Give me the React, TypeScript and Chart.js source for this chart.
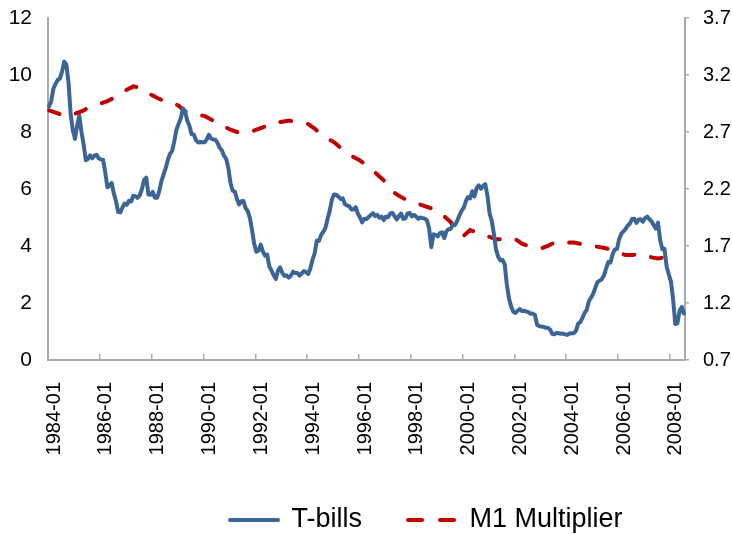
import React, { useEffect, useRef } from 'react';
import { Chart, registerables } from 'chart.js';

Chart.register(...registerables);

// Monthly categories 1984-01 .. 2008-07
const months: string[] = [];
for (let y = 1984; y <= 2008; y++) {
  for (let m = 1; m <= 12; m++) {
    if (y === 2008 && m > 7) break;
    months.push(`${y}-${String(m).padStart(2, '0')}`);
  }
}

// 3-month T-bill rate (%), monthly, left axis
const tbills: number[] = [
  8.90, 9.09, 9.52, 9.69, 9.83, 9.87, 10.12, 10.47, 10.37, 9.74, 8.61, 8.06,
  7.76, 8.22, 8.57, 8.00, 7.56, 7.01, 7.05, 7.18, 7.08, 7.17, 7.20, 7.07,
  7.04, 7.03, 6.59, 6.06, 6.12, 6.21, 5.84, 5.57, 5.19, 5.18, 5.35, 5.49,
  5.45, 5.59, 5.56, 5.76, 5.75, 5.69, 5.78, 6.00, 6.32, 6.40, 5.81, 5.80,
  5.90, 5.69, 5.69, 5.92, 6.27, 6.50, 6.73, 7.02, 7.23, 7.34, 7.68, 8.09,
  8.29, 8.48, 8.83, 8.70, 8.40, 8.22, 7.92, 7.91, 7.72, 7.63, 7.65, 7.64,
  7.64, 7.74, 7.90, 7.77, 7.74, 7.73, 7.62, 7.45, 7.36, 7.17, 7.06, 6.74,
  6.22, 5.94, 5.91, 5.65, 5.46, 5.57, 5.58, 5.33, 5.22, 4.99, 4.56, 4.07,
  3.80, 3.84, 4.05, 3.81, 3.66, 3.70, 3.28, 3.14, 2.97, 2.84, 3.14, 3.25,
  3.06, 2.95, 2.97, 2.89, 2.96, 3.10, 3.05, 3.05, 2.96, 3.04, 3.12, 3.08,
  3.02, 3.21, 3.52, 3.74, 4.19, 4.18, 4.39, 4.50, 4.64, 4.96, 5.25, 5.64,
  5.81, 5.80, 5.73, 5.65, 5.67, 5.47, 5.42, 5.40, 5.28, 5.28, 5.36, 5.14,
  5.00, 4.83, 4.96, 4.95, 5.02, 5.09, 5.15, 5.05, 5.09, 4.99, 5.03, 4.91,
  5.03, 5.01, 5.14, 5.16, 5.05, 4.93, 5.05, 5.14, 4.95, 4.97, 5.14, 5.16,
  5.04, 5.09, 5.03, 4.95, 5.00, 4.98, 4.96, 4.90, 4.61, 3.96, 4.41, 4.39,
  4.34, 4.45, 4.48, 4.28, 4.51, 4.59, 4.60, 4.76, 4.73, 4.88, 5.07, 5.23,
  5.34, 5.57, 5.72, 5.67, 5.92, 5.74, 6.03, 6.13, 6.01, 6.11, 6.17, 5.77,
  5.15, 4.88, 4.42, 3.87, 3.62, 3.49, 3.51, 3.36, 2.64, 2.16, 1.87, 1.69,
  1.65, 1.73, 1.79, 1.72, 1.73, 1.70, 1.68, 1.62, 1.63, 1.58, 1.23, 1.19,
  1.17, 1.17, 1.13, 1.13, 1.07, 0.92, 0.90, 0.95, 0.94, 0.92, 0.93, 0.90,
  0.88, 0.93, 0.94, 0.94, 1.02, 1.27, 1.33, 1.48, 1.65, 1.76, 2.07, 2.19,
  2.33, 2.54, 2.74, 2.78, 2.84, 2.97, 3.22, 3.44, 3.42, 3.71, 3.88, 3.89,
  4.24, 4.43, 4.51, 4.60, 4.72, 4.79, 4.95, 4.96, 4.81, 4.92, 4.94, 4.85,
  4.98, 5.03, 4.94, 4.87, 4.73, 4.61, 4.82, 4.20, 3.89, 3.90, 3.27, 3.00,
  2.75, 2.12, 1.26, 1.29, 1.73, 1.86, 1.63,
];

// M1 money multiplier, quarterly readings (Jan/Apr/Jul/Oct), right axis
const m1Values: number[] = [
  2.89, 2.87, 2.85, 2.84, 2.86, 2.88, 2.91, 2.93, 2.95, 2.97, 3.00, 3.04,
  3.07, 3.10, 3.09, 3.05, 3.02, 2.99, 2.97, 2.96, 2.93, 2.88, 2.87, 2.85,
  2.84, 2.81, 2.78, 2.75, 2.72, 2.70, 2.69, 2.70, 2.72, 2.74, 2.77, 2.78,
  2.79, 2.80, 2.79, 2.78, 2.77, 2.73, 2.68, 2.64, 2.61, 2.56, 2.52, 2.48,
  2.45, 2.41, 2.36, 2.31, 2.26, 2.18, 2.14, 2.11, 2.09, 2.07, 2.05, 2.03,
  2.01, 1.96, 1.91, 1.82, 1.79, 1.84, 1.82, 1.80, 1.78, 1.76, 1.76, 1.77,
  1.76, 1.72, 1.70, 1.69, 1.68, 1.70, 1.73, 1.74, 1.73, 1.73, 1.72, 1.71,
  1.70, 1.69, 1.68, 1.66, 1.64, 1.62, 1.62, 1.63, 1.62, 1.60, 1.59, 1.60,
  1.61,
];
const m1Dates: string[] = months.filter((_, i) => i % 3 === 0).slice(0, m1Values.length);

const leftMin = 0;
const leftMax = 12;
const leftStep = 2;
const rightMin = 0.7;
const rightMax = 3.7;
const rightStep = 0.5;
const labelEvery = 24;

const BLUE = '#3b6597';
const RED = '#c00000';
const AXIS = '#aaaaaa';
const FONT = "'Liberation Sans', Arial, sans-serif";

const W = 732;
const H = 534;
const PLOT_TOP = 18;
const PLOT_BOTTOM = 360;
const LEGEND_H = 40;

const legendPlace = {
  id: 'legendPlace',
  beforeLayout(chart: any) {
    const lg = chart.legend;
    if (lg && !lg._fixedFit) {
      const orig = lg.fit.bind(lg);
      lg.fit = () => {
        orig();
        lg.height = LEGEND_H;
      };
      lg._fixedFit = true;
    }
  },
  afterLayout(chart: any) {
    const lg = chart.legend;
    if (!lg) return;
    const pad = lg.options.labels.padding;
    const fs = lg.options.labels.font.size;
    const targetLeft = 230 - pad;
    const targetTop = 520 - pad - fs / 2;
    lg.left = targetLeft;
    lg.right = targetLeft + W;
    lg.top = targetTop;
    lg.bottom = H;
    lg.width = lg.right - lg.left;
    lg.height = lg.bottom - lg.top;
  },
};

export default function App() {
  const ref = useRef<HTMLCanvasElement>(null);

  useEffect(() => {
    if (!ref.current) return;
    const chart = new Chart(ref.current, {
      type: 'line',
      data: {
        labels: months,
        datasets: [
          {
            label: 'T-bills',
            data: tbills,
            borderColor: BLUE,
            backgroundColor: BLUE,
            borderWidth: 4,
            pointRadius: 0,
            tension: 0,
            borderJoinStyle: 'round',
            borderCapStyle: 'round',
            yAxisID: 'y',
          },
          {
            label: 'M1 Multiplier',
            data: m1Dates.map((d, i) => ({ x: d, y: m1Values[i] })) as any,
            borderColor: RED,
            backgroundColor: RED,
            borderWidth: 4,
            borderDash: [11, 17],
            borderCapStyle: 'round',
            pointRadius: 0,
            tension: 0,
            yAxisID: 'y1',
          },
        ],
      },
      options: {
        animation: false,
        responsive: true,
        maintainAspectRatio: false,
        layout: { padding: { top: PLOT_TOP, left: 0, right: 0, bottom: 0 } },
        plugins: {
          tooltip: { enabled: false },
          legend: {
            position: 'bottom',
            align: 'start',
            labels: {
              boxWidth: 48,
              boxHeight: 0,
              padding: 46,
              color: '#000',
              font: { family: FONT, size: 27 },
              generateLabels: (c: any) => {
                const items = (Chart.defaults as any).plugins.legend.labels.generateLabels(c);
                items.forEach((it: any) => {
                  if (it.lineDash && it.lineDash.length) it.lineDash = [14, 18, 14, 400];
                });
                return items;
              },
            },
          },
        },
        scales: {
          x: {
            type: 'category',
            offset: true,
            grid: {
              offset: true,
              drawOnChartArea: false,
              drawTicks: true,
              tickLength: -6,
              lineWidth: 1.5,
              color: (ctx: any) => (ctx.index % labelEvery === 0 ? AXIS : 'rgba(0,0,0,0)'),
            },
            border: { color: AXIS, width: 2 },
            ticks: {
              autoSkip: false,
              minRotation: 90,
              maxRotation: 90,
              padding: 28,
              labelOffset: 5,
              color: '#000',
              font: { family: FONT, size: 20 },
              callback: (_v: any, i: number) => (i % labelEvery === 0 ? months[i] : ''),
            },
            afterFit: (s: any) => {
              s.height = H - PLOT_BOTTOM - LEGEND_H;
              s.paddingLeft = 0;
              s.paddingRight = 0;
            },
          },
          y: {
            position: 'left',
            min: leftMin,
            max: leftMax,
            grid: { display: false, drawTicks: false },
            border: { color: AXIS, width: 2 },
            ticks: {
              stepSize: leftStep,
              padding: 16,
              color: '#000',
              font: { family: FONT, size: 21 },
            },
            afterFit: (s: any) => {
              s.width = 48;
              s.paddingTop = 0;
              s.paddingBottom = 0;
            },
          },
          y1: {
            position: 'right',
            min: rightMin,
            max: rightMax,
            grid: { drawOnChartArea: false, drawTicks: true, tickLength: 4, color: AXIS, lineWidth: 1.5 },
            border: { color: AXIS, width: 2 },
            ticks: {
              stepSize: rightStep,
              padding: 14,
              color: '#000',
              font: { family: FONT, size: 20 },
              callback: (v: any) => Number(v).toFixed(1),
            },
            afterFit: (s: any) => {
              s.width = W - 685;
              s.paddingTop = 0;
              s.paddingBottom = 0;
            },
          },
        },
      },
      plugins: [legendPlace],
    });
    return () => chart.destroy();
  }, []);

  return (
    <div style={{ position: 'absolute', left: 0, top: 0, width: W, height: H, background: '#fff' }}>
      <canvas ref={ref} />
    </div>
  );
}
